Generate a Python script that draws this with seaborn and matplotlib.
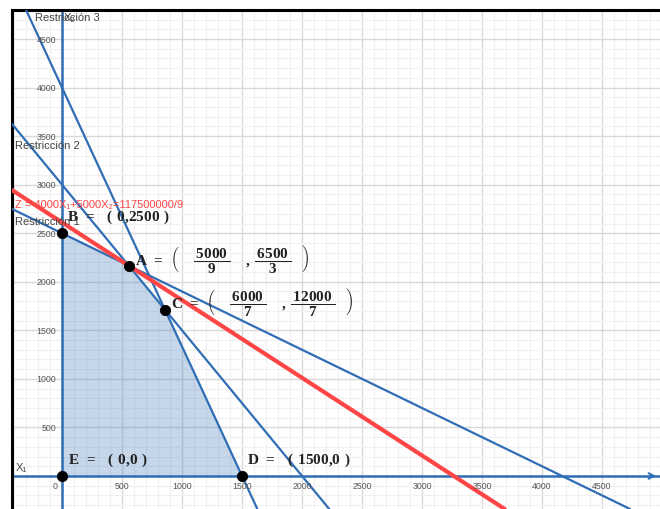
import numpy as np
import matplotlib
matplotlib.use("Agg")
import matplotlib.pyplot as plt
import seaborn as sns
from matplotlib.ticker import MultipleLocator

# vertices of the feasible region (E, D, C, A, B)
vert_names = ["E", "D", "C", "A", "B"]
vert_x1 = [0, 1500, 6000 / 7, 5000 / 9, 0]
vert_x2 = [0, 0, 12000 / 7, 6500 / 3, 2500]

# constraint lines given by their two axis intercepts (x1 cut, x2 cut)
restr1 = [(0, 2500), (12500 / 3, 0)]
restr2 = [(0, 3000), (2000, 0)]
restr3 = [(0, 4000), (1500, 0)]

# objective line Z = 4000 X1 + 5000 X2 = 117500000/9
z_coef = [4000, 5000]
z_value = 117500000 / 9

tick_vals = [500, 1000, 1500, 2000, 2500, 3000, 3500, 4000, 4500]
tick_labels = ["500", "1000", "1500", "2000", "2500", "3000", "3500", "4000", "4500"]

sns.set_style("white")
plt.rcParams["font.family"] = ["Liberation Sans", "DejaVu Sans"]
plt.rcParams["mathtext.fontset"] = "custom"
plt.rcParams["mathtext.rm"] = "Liberation Serif"
plt.rcParams["mathtext.bf"] = "Liberation Serif:bold"

azul = "#2f6db5"
rojo = "#ff4545"

fig = plt.figure(figsize=(6.6, 5.1), dpi=100)
ax = fig.add_axes([12 / 660, 0, 648 / 660, 499 / 510])
ax.set_xlim(-417, 4983)
ax.set_ylim(-340, 4799)

# grid
ax.xaxis.set_major_locator(MultipleLocator(500))
ax.yaxis.set_major_locator(MultipleLocator(500))
ax.xaxis.set_minor_locator(MultipleLocator(100))
ax.yaxis.set_minor_locator(MultipleLocator(100))
ax.grid(which="major", color="#d9d9d9", lw=1.0, zorder=0)
ax.grid(which="minor", color="#f0f0f0", lw=0.8, zorder=0)
ax.tick_params(which="both", length=0, labelbottom=False, labelleft=False)
ax.set_axisbelow(True)

for s in ["right", "bottom"]:
    ax.spines[s].set_visible(False)
for s in ["left", "top"]:
    ax.spines[s].set_color("black")
    ax.spines[s].set_linewidth(2.2)

# region factible
ax.fill(vert_x1, vert_x2, color=azul, alpha=0.27, lw=0, zorder=1)

# ejes
ax.axhline(0, color=azul, lw=1.8, zorder=2)
ax.axvline(0, color=azul, lw=1.8, zorder=2)
ax.annotate("", xy=(4975, 0), xytext=(4880, 0),
            arrowprops=dict(arrowstyle="->", color=azul, lw=1.4), zorder=3)

# restricciones
for r in [restr1, restr2, restr3]:
    ax.axline(r[0], r[1], color=azul, lw=1.6, zorder=3)

# funcion objetivo
ax.axline((0, z_value / z_coef[1]), (z_value / z_coef[0], 0), color=rojo, lw=3.0, zorder=4)

# vertices
sns.scatterplot(x=vert_x1, y=vert_x2, color="black", s=55, edgecolor="black", zorder=5, ax=ax)

# tick labels along the axes
for v, t in zip(tick_vals, tick_labels):
    ax.text(v, -93, t, ha="center", va="center", fontsize=6.3, color="#555555", zorder=6)
    ax.text(-50, v, t, ha="right", va="center", fontsize=6.3, color="#555555", zorder=6)
ax.text(-58, -93, "0", ha="center", va="center", fontsize=6.3, color="#555555", zorder=6)

# textos
gris = "#444444"
ax.text(-225, 4727, "Restricción 3", fontsize=8, color=gris, va="center", zorder=6)
ax.text(17, 4727, "X₂", fontsize=8, color=gris, va="center", zorder=6)
ax.text(-392, 3409, "Restricción 2", fontsize=8, color=gris, va="center", zorder=6)
ax.text(-392, 2626, "Restricción 1", fontsize=8, color=gris, va="center", zorder=6)
ax.text(-392, 2801, "Z = 4000X₁+5000X₂=117500000/9", fontsize=8, color=rojo, va="center", zorder=6)
ax.text(-383, 93, "X₁", fontsize=8, color=gris, va="center", zorder=6)

lbl = dict(fontsize=11, color="#222222", va="center", zorder=6)
ax.text(42, 2678, r"$\mathbf{B\ =\ \ (\ 0{,}2500\ )}$", **lbl)
ax.text(50, 175, r"$\mathbf{E\ =\ \ (\ 0{,}0\ )}$", **lbl)
ax.text(1542, 175, r"$\mathbf{D\ =\ \ (\ 1500{,}0\ )}$", **lbl)
ax.text(608, 2235, r"$\mathbf{A\ =}\ \left(\ \ \ \dfrac{\,\mathbf{5000}\,}{\mathbf{9}}\ \ \ \mathbf{,}\ \dfrac{\,\mathbf{6500}\,}{\mathbf{3}}\ \ \right)$", **lbl)
ax.text(908, 1802, r"$\mathbf{C\ =}\ \left(\ \ \ \dfrac{\,\mathbf{6000}\,}{\mathbf{7}}\ \ \ \mathbf{,}\ \dfrac{\,\mathbf{12000}\,}{\mathbf{7}}\ \ \right)$", **lbl)

fig.savefig("out.png", dpi=100)
